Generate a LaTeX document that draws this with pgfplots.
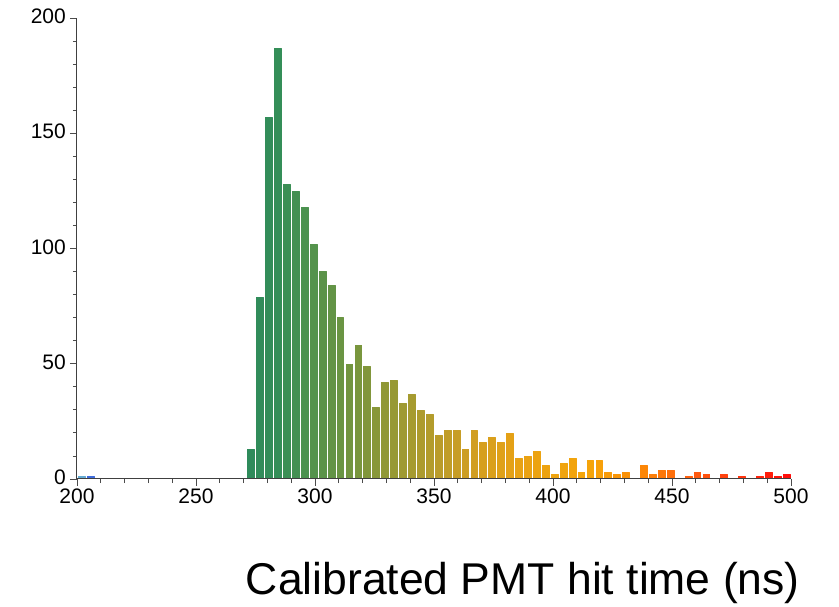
\documentclass[border=0pt]{standalone}
\usepackage{fontspec}
\setmainfont{Liberation Sans}
\usepackage{pgfplots}
\pgfplotsset{compat=1.18}
\begin{document}
\begin{tikzpicture}
\path[use as bounding box] (0,0) rectangle (839pt,606pt);
\begin{axis}[
  at={(77pt,127pt)}, anchor=south west,
  scale only axis, width=714pt, height=461pt,
  xmin=200, xmax=500, ymin=0, ymax=200,
  axis lines=left, axis line style={-, black!75, line width=1pt},
  axis on top,
  xtick={200,250,...,500}, ytick={0,50,...,200},
  minor x tick num=4, minor y tick num=4,
  tick align=outside,
  major tick length=7pt, minor tick length=4pt,
  tick style={black!70, line width=0.8pt},
  /pgf/number format/assume math mode=true,
  ticklabel style={font=\fontsize{21}{24}\selectfont, inner sep=0pt},
  yticklabel style={xshift=-4pt, yshift=1.5pt},
  xticklabel style={yshift=-2.5pt},
  colormap={hit}{rgb255(0pt)=(100,170,210); rgb255(2pt)=(100,170,210); rgb255(6pt)=(58,100,220); rgb255(71pt)=(46,138,92); rgb255(85pt)=(52,142,88); rgb255(100pt)=(85,147,75); rgb255(120pt)=(125,150,60); rgb255(140pt)=(165,155,48); rgb255(160pt)=(200,157,38); rgb255(185pt)=(232,162,20); rgb255(215pt)=(245,165,10); rgb255(235pt)=(252,140,5); rgb255(260pt)=(255,90,15); rgb255(300pt)=(255,10,10)},
  point meta min=200, point meta max=500,
]
\addplot[patch, patch type=rectangle, shader=flat mean, point meta=x] table[row sep=\\] {
x y\\
200.45 0\\ 203.3 0\\ 203.3 1\\ 200.45 1\\
204.2 0\\ 207.05 0\\ 207.05 1\\ 204.2 1\\
271.7 0\\ 274.55 0\\ 274.55 13\\ 271.7 13\\
275.45 0\\ 278.3 0\\ 278.3 79\\ 275.45 79\\
279.2 0\\ 282.05 0\\ 282.05 157\\ 279.2 157\\
282.95 0\\ 285.8 0\\ 285.8 187\\ 282.95 187\\
286.7 0\\ 289.55 0\\ 289.55 128\\ 286.7 128\\
290.45 0\\ 293.3 0\\ 293.3 125\\ 290.45 125\\
294.2 0\\ 297.05 0\\ 297.05 118\\ 294.2 118\\
297.95 0\\ 300.8 0\\ 300.8 102\\ 297.95 102\\
301.7 0\\ 304.55 0\\ 304.55 90\\ 301.7 90\\
305.45 0\\ 308.3 0\\ 308.3 84\\ 305.45 84\\
309.2 0\\ 312.05 0\\ 312.05 70\\ 309.2 70\\
312.95 0\\ 315.8 0\\ 315.8 50\\ 312.95 50\\
316.7 0\\ 319.55 0\\ 319.55 58\\ 316.7 58\\
320.45 0\\ 323.3 0\\ 323.3 49\\ 320.45 49\\
324.2 0\\ 327.05 0\\ 327.05 31\\ 324.2 31\\
327.95 0\\ 330.8 0\\ 330.8 42\\ 327.95 42\\
331.7 0\\ 334.55 0\\ 334.55 43\\ 331.7 43\\
335.45 0\\ 338.3 0\\ 338.3 33\\ 335.45 33\\
339.2 0\\ 342.05 0\\ 342.05 37\\ 339.2 37\\
342.95 0\\ 345.8 0\\ 345.8 30\\ 342.95 30\\
346.7 0\\ 349.55 0\\ 349.55 28\\ 346.7 28\\
350.45 0\\ 353.3 0\\ 353.3 19\\ 350.45 19\\
354.2 0\\ 357.05 0\\ 357.05 21\\ 354.2 21\\
357.95 0\\ 360.8 0\\ 360.8 21\\ 357.95 21\\
361.7 0\\ 364.55 0\\ 364.55 13\\ 361.7 13\\
365.45 0\\ 368.3 0\\ 368.3 21\\ 365.45 21\\
369.2 0\\ 372.05 0\\ 372.05 16\\ 369.2 16\\
372.95 0\\ 375.8 0\\ 375.8 18\\ 372.95 18\\
376.7 0\\ 379.55 0\\ 379.55 16\\ 376.7 16\\
380.45 0\\ 383.3 0\\ 383.3 20\\ 380.45 20\\
384.2 0\\ 387.05 0\\ 387.05 9\\ 384.2 9\\
387.95 0\\ 390.8 0\\ 390.8 10\\ 387.95 10\\
391.7 0\\ 394.55 0\\ 394.55 12\\ 391.7 12\\
395.45 0\\ 398.3 0\\ 398.3 6\\ 395.45 6\\
399.2 0\\ 402.05 0\\ 402.05 2\\ 399.2 2\\
402.95 0\\ 405.8 0\\ 405.8 7\\ 402.95 7\\
406.7 0\\ 409.55 0\\ 409.55 9\\ 406.7 9\\
410.45 0\\ 413.3 0\\ 413.3 3\\ 410.45 3\\
414.2 0\\ 417.05 0\\ 417.05 8\\ 414.2 8\\
417.95 0\\ 420.8 0\\ 420.8 8\\ 417.95 8\\
421.7 0\\ 424.55 0\\ 424.55 3\\ 421.7 3\\
425.45 0\\ 428.3 0\\ 428.3 2\\ 425.45 2\\
429.2 0\\ 432.05 0\\ 432.05 3\\ 429.2 3\\
436.7 0\\ 439.55 0\\ 439.55 6\\ 436.7 6\\
440.45 0\\ 443.3 0\\ 443.3 2\\ 440.45 2\\
444.2 0\\ 447.05 0\\ 447.05 4\\ 444.2 4\\
447.95 0\\ 450.8 0\\ 450.8 4\\ 447.95 4\\
455.45 0\\ 458.3 0\\ 458.3 1\\ 455.45 1\\
459.2 0\\ 462.05 0\\ 462.05 3\\ 459.2 3\\
462.95 0\\ 465.8 0\\ 465.8 2\\ 462.95 2\\
470.45 0\\ 473.3 0\\ 473.3 2\\ 470.45 2\\
477.95 0\\ 480.8 0\\ 480.8 1\\ 477.95 1\\
485.45 0\\ 488.3 0\\ 488.3 1\\ 485.45 1\\
489.2 0\\ 492.05 0\\ 492.05 3\\ 489.2 3\\
492.95 0\\ 495.8 0\\ 495.8 1\\ 492.95 1\\
496.7 0\\ 499.55 0\\ 499.55 2\\ 496.7 2\\
};
\end{axis}
\node[anchor=base east, inner sep=0pt, font=\fontsize{44.5}{50}\selectfont] at (800pt,12pt) {Calibrated PMT hit time (ns)};
\end{tikzpicture}
\end{document}
